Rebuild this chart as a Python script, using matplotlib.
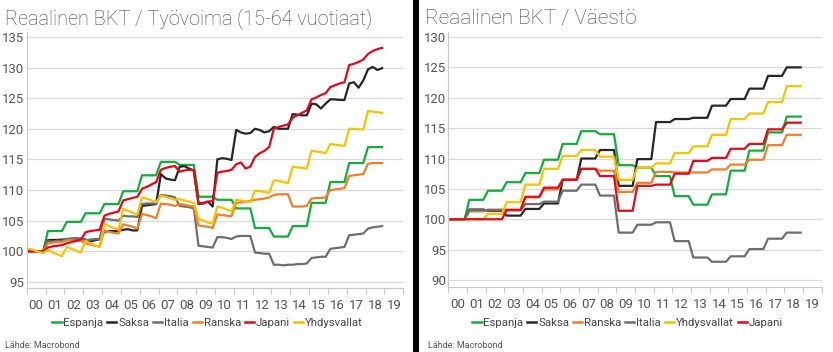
import numpy as np
import matplotlib
matplotlib.use('Agg')
import matplotlib.pyplot as plt
from matplotlib.patches import Rectangle
from matplotlib.lines import Line2D

plt.rcParams['font.family'] = ['Roboto', 'DejaVu Sans']

year_labels = ['00', '01', '02', '03', '04', '05', '06', '07', '08', '09',
               '10', '11', '12', '13', '14', '15', '16', '17', '18', '19']

# ---------- Left panel: real GDP / labour force (15-64), quarterly ----------
left_espanja_annual = [100, 103.3, 104.8, 106.2, 107.7, 109.8, 112.4, 114.6, 114.1, 108.9,
                       108.4, 107.0, 103.8, 102.4, 104.1, 107.9, 111.3, 114.4, 117.0]
left_saksa = [100, 100, 100, 100, 101.8, 101.85, 101.85, 101.9, 102.0, 102.05, 102.1, 102.05,
              101.9, 101.6, 101.8, 101.95, 103.2, 103.3, 103.3, 103.35, 103.5, 103.6, 103.4, 103.4,
              107.4, 107.5, 107.6, 107.7, 112.6, 111.9, 111.7, 111.6, 113.8, 113.9, 113.5, 113.2,
              107.7, 107.8, 108.1, 107.3, 115.0, 115.2, 115.1, 114.9, 119.8, 119.4, 119.2, 119.3,
              120.0, 119.8, 119.4, 119.6, 120.3, 120.0, 120.0, 120.0, 122.4, 122.3, 122.2, 122.2,
              124.1, 124.0, 123.3, 124.1, 124.8, 124.8, 124.7, 124.7, 127.4, 127.6, 126.7, 127.9,
              129.7, 130.1, 129.6, 129.9]
left_italia = [100, 100, 100, 100, 101.6, 101.6, 101.7, 101.7, 102.0, 102.0, 102.0, 102.0,
               101.8, 101.9, 102.0, 102.0, 105.3, 105.2, 105.1, 105.0, 105.8, 105.7, 105.7, 105.6,
               107.7, 107.8, 107.8, 107.8, 109.2, 109.1, 109.0, 108.8, 107.4, 107.3, 107.2, 107.0,
               100.9, 100.8, 100.7, 100.6, 102.3, 102.3, 102.2, 102.0, 102.4, 102.5, 102.5, 102.5,
               99.8, 99.7, 99.6, 99.6, 97.8, 97.8, 97.7, 97.8, 97.8, 97.9, 97.9, 98.0,
               98.9, 99.0, 99.1, 99.1, 100.4, 100.5, 100.6, 100.7, 102.6, 102.7, 102.8, 102.9,
               103.7, 103.9, 104.0, 104.1]
left_ranska = [100, 100, 100, 100, 101.3, 101.4, 101.5, 101.5, 101.8, 101.8, 101.7, 101.7,
               101.3, 101.1, 100.9, 100.8, 103.4, 103.2, 103.0, 102.9, 104.4, 104.2, 104.0, 103.7,
               106.1, 105.9, 105.7, 105.4, 107.8, 107.7, 107.6, 107.4, 107.7, 107.6, 107.4, 107.3,
               104.2, 104.1, 104.0, 103.8, 106.0, 105.9, 105.8, 105.7, 107.9, 108.0, 108.1, 108.2,
               108.4, 108.5, 108.6, 108.8, 109.2, 109.3, 109.3, 109.3, 107.3, 107.3, 107.3, 107.4,
               108.6, 108.7, 108.7, 108.8, 110.0, 110.1, 110.2, 110.3, 112.3, 112.4, 112.5, 112.6,
               114.3, 114.4, 114.4, 114.4]
left_japani = [100, 100, 100, 100, 100.6, 100.8, 100.9, 101.0, 101.3, 101.5, 101.7, 101.9,
               103.1, 103.3, 103.4, 103.5, 105.8, 106.1, 106.3, 106.5, 108.3, 108.5, 108.7, 108.9,
               110.2, 110.5, 110.9, 111.3, 113.3, 113.6, 113.8, 113.9, 113.0, 113.2, 113.3, 113.2,
               107.8, 107.9, 108.1, 108.2, 112.8, 113.0, 113.1, 113.3, 114.2, 114.5, 113.5, 113.8,
               115.4, 116.0, 116.4, 117.0, 120.0, 120.3, 120.5, 120.7, 121.8, 122.2, 122.6, 123.0,
               124.8, 125.1, 125.5, 125.8, 126.8, 127.1, 127.4, 127.6, 130.4, 130.6, 130.9, 131.3,
               132.2, 132.7, 133.0, 133.2]
left_yhdysvallat = [100.4, 100.2, 99.9, 99.7, 100.2, 99.8, 99.5, 99.2, 100.7, 100.4, 100.1, 99.8,
                    101.7, 101.3, 101.0, 100.7, 104.5, 104.1, 103.8, 103.5, 106.9, 106.6, 106.3, 106.0,
                    108.8, 108.6, 108.3, 108.0, 109.1, 108.9, 108.6, 108.4, 108.5, 108.3, 108.1, 107.9,
                    105.3, 105.0, 104.7, 104.5, 107.3, 107.1, 106.8, 106.5, 108.4, 108.3, 108.1, 108.0,
                    109.9, 109.8, 109.7, 109.5, 111.6, 111.5, 111.3, 111.1, 113.8, 113.7, 113.6, 113.5,
                    116.4, 116.3, 116.2, 116.0, 117.5, 117.4, 117.3, 117.2, 120.0, 120.0, 119.9, 119.9,
                    122.9, 122.8, 122.7, 122.6]

# ---------- Right panel: real GDP / population, annual (shown per quarter) ----------
right_espanja = [100, 103.2, 104.7, 106.1, 107.6, 109.8, 112.4, 114.5, 114.0, 108.9,
                 108.5, 107.1, 103.8, 102.4, 104.1, 108.0, 111.3, 114.3, 116.9]
right_saksa = [100, 101.6, 101.4, 100.6, 101.7, 102.6, 106.5, 110.0, 111.4, 105.5,
               109.9, 116.0, 116.5, 116.7, 118.7, 119.8, 121.5, 123.6, 125.0]
right_ranska = [100, 101.3, 101.6, 101.6, 103.6, 104.9, 106.5, 108.3, 108.0, 104.5,
                106.0, 107.8, 107.7, 107.7, 108.2, 109.0, 109.8, 112.2, 113.9]
right_italia = [100, 101.5, 101.5, 101.5, 102.5, 102.9, 104.7, 105.7, 103.9, 97.8,
                99.1, 99.5, 96.4, 93.7, 93.0, 93.9, 95.1, 96.8, 97.8]
right_yhdysvallat = [100, 100.0, 100.9, 102.8, 105.7, 108.3, 110.4, 111.4, 110.3, 106.5,
                     108.5, 109.2, 110.9, 112.0, 113.9, 116.5, 117.4, 119.3, 121.9]
right_japani = [100, 100.0, 100.0, 101.5, 103.7, 105.2, 106.5, 108.3, 107.1, 101.4,
                105.5, 105.7, 107.5, 109.6, 110.1, 111.6, 112.4, 114.8, 115.9]

colors = {
    'Espanja': '#13ad3b',
    'Saksa': '#262626',
    'Italia': '#6e6e6e',
    'Ranska': '#f07e2a',
    'Japani': '#e3091b',
    'Yhdysvallat': '#f7c200',
}

W, H = 833, 352
fig = plt.figure(figsize=(W / 100, H / 100), dpi=100)
fig.patch.set_facecolor('white')


def rect(x0, x1, ytop, ybot):
    return [x0 / W, 1 - ybot / H, (x1 - x0) / W, (ybot - ytop) / H]


nq = 19 * 4
xq = np.arange(nq) / 4 + 0.125


def style(ax, ylim, yticks):
    ax.set_xlim(0, 20)
    ax.set_ylim(*ylim)
    ax.set_yticks(yticks)
    ax.set_yticklabels([str(t) for t in yticks])
    ax.set_xticks(np.arange(21))
    ax.set_xticklabels([])
    ax.set_xticks(np.arange(20) + 0.5, minor=True)
    ax.set_xticklabels(year_labels, minor=True)
    ax.tick_params(axis='x', which='major', length=4, color='#c8c8c8', width=0.8)
    ax.tick_params(axis='x', which='minor', length=0, pad=8, labelsize=9.5, labelcolor='#555555')
    ax.tick_params(axis='y', length=0, pad=1.5, labelsize=9.5, labelcolor='#555555')
    for s in ['top', 'right']:
        ax.spines[s].set_visible(False)
    for s in ['left', 'bottom']:
        ax.spines[s].set_color('#c8c8c8')
        ax.spines[s].set_linewidth(0.8)
    ax.grid(axis='y', color='#d9d9d9', linewidth=0.9)
    ax.set_axisbelow(True)


# Left panel
axL = fig.add_axes(rect(26.7, 403.3, 32, 288))
style(axL, (94, 135.8), [95, 100, 105, 110, 115, 120, 125, 130, 135])
left_series = [
    ('Espanja', np.repeat(left_espanja_annual, 4)),
    ('Saksa', left_saksa),
    ('Italia', left_italia),
    ('Ranska', left_ranska),
    ('Japani', left_japani),
    ('Yhdysvallat', left_yhdysvallat),
]
for name, vals in left_series:
    axL.plot(xq, vals, color=colors[name], lw=1.6, solid_joinstyle='round')

# Right panel
axR = fig.add_axes(rect(448.3, 821.7, 32.15, 287.3))
style(axR, (88.8, 130.8), [90, 95, 100, 105, 110, 115, 120, 125, 130])
right_series = [
    ('Espanja', right_espanja),
    ('Saksa', right_saksa),
    ('Ranska', right_ranska),
    ('Italia', right_italia),
    ('Yhdysvallat', right_yhdysvallat),
    ('Japani', right_japani),
]
for name, vals in right_series:
    axR.plot(xq, np.repeat(vals, 4), color=colors[name], lw=1.6, solid_joinstyle='round')

# Titles
fig.text(5 / W, 1 - 24 / H, 'Reaalinen BKT / Työvoima (15-64 vuotiaat)', fontsize=14.3,
         fontweight='light', color='#444444', va='baseline', ha='left')
fig.text(425 / W, 1 - 24 / H, 'Reaalinen BKT / Väestö', fontsize=15,
         fontweight='light', color='#444444', va='baseline', ha='left')

# Legends
for series, cx in [(left_series, 207.5), (right_series, 627.5)]:
    handles = [Line2D([], [], color=colors[n], lw=1.8) for n, _ in series]
    labels = [n for n, _ in series]
    fig.legend(handles, labels, loc='center', bbox_to_anchor=(cx / W, 1 - 323 / H), ncol=6,
               frameon=False, fontsize=8.2, handlelength=0.8, handletextpad=0.15,
               columnspacing=0.35, labelcolor='#444444', borderaxespad=0, borderpad=0)

# Source
fig.text(5 / W, 1 - 345 / H, 'Lähde: Macrobond', fontsize=6.5, color='#555555', va='center')
fig.text(428 / W, 1 - 345 / H, 'Lähde: Macrobond', fontsize=6.5, color='#555555', va='center')

# Black separator bar
fig.patches.append(Rectangle((413 / W, 0), 6 / W, 1, transform=fig.transFigure,
                             facecolor='black', edgecolor='none'))

fig.savefig('out.png', dpi=100)
